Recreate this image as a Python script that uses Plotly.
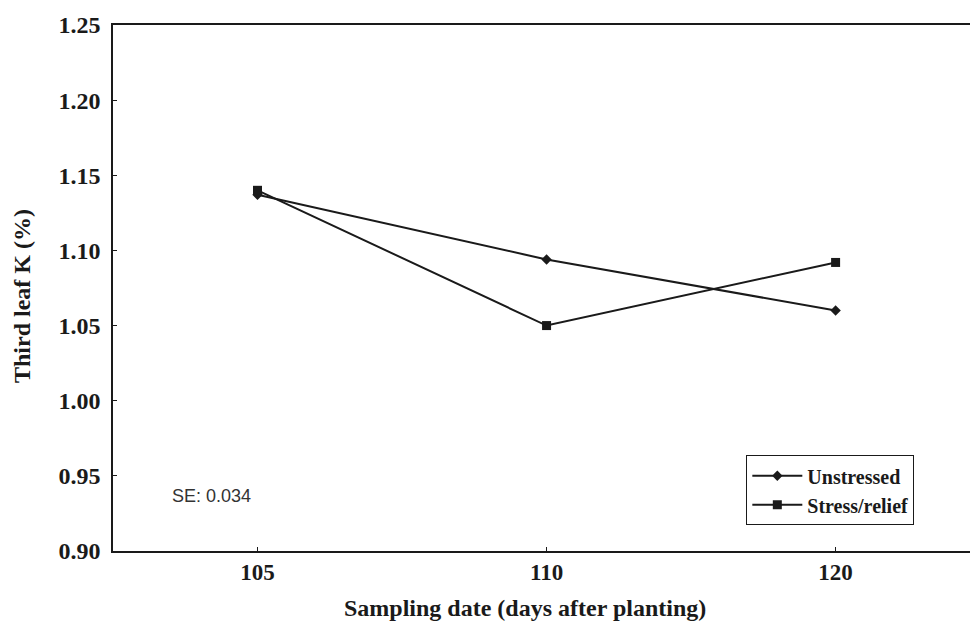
import plotly.graph_objects as go

dates = ["105", "110", "120"]
unstressed = [1.137, 1.094, 1.060]
stress_relief = [1.140, 1.050, 1.092]
y_ticks = [0.90, 0.95, 1.00, 1.05, 1.10, 1.15, 1.20, 1.25]
y_labels = ["0.90", "0.95", "1.00", "1.05", "1.10", "1.15", "1.20", "1.25"]

ink = "#1a1a1a"
serif = "Liberation Serif"

fig = go.Figure()
fig.add_trace(go.Scatter(
    x=dates, y=unstressed, name="<b>Unstressed</b>", mode="lines+markers",
    line=dict(color=ink, width=2),
    marker=dict(symbol="diamond", size=8, color=ink),
))
fig.add_trace(go.Scatter(
    x=dates, y=stress_relief, name="<b>Stress/relief</b>", mode="lines+markers",
    line=dict(color=ink, width=2),
    marker=dict(symbol="square", size=9, color=ink),
))

fig.update_layout(
    width=970, height=625,
    margin=dict(l=113, r=0, t=25, b=74),
    paper_bgcolor="white", plot_bgcolor="white",
    showlegend=True,
    legend=dict(
        x=0.739, y=0.182, xanchor="left", yanchor="top",
        bordercolor=ink, borderwidth=1, bgcolor="white",
        font=dict(family=serif, size=20, color=ink),
        tracegroupgap=0, itemwidth=50,
    ),
    font=dict(family=serif, color=ink),
    annotations=[
        dict(text="SE: 0.034", xref="paper", yref="paper", x=0.0665, y=0.105,
             xanchor="left", yanchor="middle", showarrow=False,
             font=dict(family="Liberation Sans", size=18, color="#333")),
        dict(text="<b>Sampling date (days after planting)</b>", xref="paper", yref="paper",
             x=0.4807, y=0, yshift=-57, xanchor="center", yanchor="middle", showarrow=False,
             font=dict(family=serif, size=24, color=ink)),
        dict(text="<b>Third leaf K (%)</b>", xref="paper", yref="paper", textangle=-90,
             x=0, xshift=-91, y=0.4848, xanchor="center", yanchor="middle", showarrow=False,
             font=dict(family=serif, size=24, color=ink)),
    ],
)

fig.update_xaxes(
    type="category", range=[-0.5, 2.465],
    tickvals=dates, ticktext=[f"<b>{d}</b>" for d in dates],
    showline=True, linecolor=ink, linewidth=1.5, mirror=True,
    ticks="inside", ticklen=4, tickcolor=ink,
    showgrid=False, zeroline=False,
    tickfont=dict(family=serif, size=23, color=ink),
)
fig.update_yaxes(
    range=[0.90, 1.25], tickvals=y_ticks, ticktext=[f"<b>{t}</b>" for t in y_labels],
    showline=True, linecolor=ink, linewidth=1.5, mirror=False,
    ticks="inside", ticklen=4, tickcolor=ink,
    showgrid=False, zeroline=False,
    ticklabelstandoff=6,
    tickfont=dict(family=serif, size=24, color=ink),
)

fig.write_html("out.html")
